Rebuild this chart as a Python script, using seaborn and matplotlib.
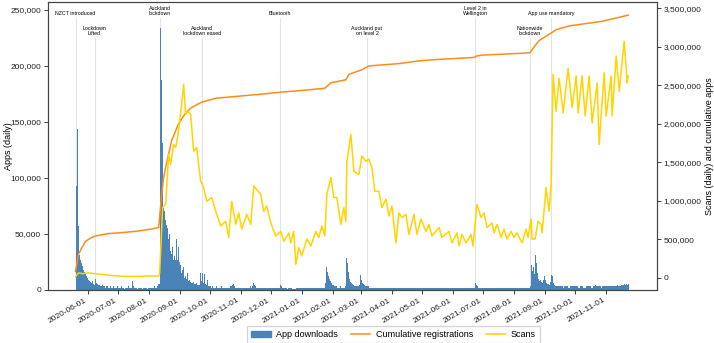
import matplotlib
matplotlib.use("Agg")
import matplotlib.pyplot as plt
import matplotlib.dates as mdates
import matplotlib.ticker as mticker
from matplotlib.patches import Patch
from matplotlib.lines import Line2D
import numpy as np
import pandas as pd
import seaborn as sns

# ---- daily app downloads (thousands), one list per month, from 2020-05-20 ----
may20 = [93, 144, 57, 31, 27, 24, 21, 18, 16, 15, 12, 11]
jun20 = [9, 8, 7, 6, 8, 5, 4, 10, 6, 5, 4, 4, 3, 3, 4, 3, 3, 2, 3, 3, 2, 2, 3, 2, 2, 3, 2, 2, 2, 3]
jul20 = [2, 2, 2, 3, 2, 2, 1, 2, 2, 2, 3, 2, 2, 2, 8, 3, 2, 2, 2, 1, 2, 2, 2, 2, 1, 2, 2, 2, 2, 1, 2]
aug20 = [2, 2, 2, 2, 2, 3, 2, 2, 3, 5, 5, 234, 187, 131, 73, 70, 62, 58, 55, 45, 50, 35, 32, 38,
         27, 30, 27, 45, 27, 38, 25]
sep20 = [22, 15, 18, 20, 11, 12, 10, 15, 8, 9, 7, 6, 6, 7, 5, 5, 6, 4, 4, 4, 15, 8, 15, 6, 14,
         5, 4, 9, 3, 3]
oct20 = [3, 2, 3, 2, 2, 2, 3, 2, 2, 2, 2, 3, 2, 2, 2, 2, 2, 2, 2, 2, 3, 3, 4, 5, 3, 2, 2, 2, 2, 2, 2]
nov20 = [2, 2, 2, 2, 2, 2, 2, 2, 2, 3, 2, 3, 6, 4, 3, 2, 2, 2, 2, 2, 2, 2, 2, 2, 2, 2, 2, 2, 2, 2]
dec20 = [2, 2, 2, 2, 2, 2, 2, 2, 2, 4, 3, 2, 2, 2, 2, 2, 1, 2, 2, 2, 2, 1, 1, 1, 1, 2, 2, 2, 2, 2, 2]
jan21 = [2, 2, 2, 2, 2, 2, 2, 2, 2, 2, 2, 2, 2, 2, 2, 2, 2, 2, 2, 2, 2, 2, 2, 6, 20, 16, 12, 10,
         8, 6, 4]
feb21 = [4, 3, 3, 3, 2, 2, 2, 3, 2, 2, 2, 2, 3, 28, 24, 16, 10, 7, 6, 5, 4, 3, 3, 3, 3, 3, 4, 13]
mar21 = [9, 6, 5, 4, 3, 3, 3, 3, 2, 2, 2, 2, 2, 2, 2, 2, 2, 2, 2, 2, 2, 2, 2, 2, 2, 2, 2, 2, 2, 2, 2]
apr21 = [2, 2, 2, 2, 1.5, 2, 2, 2, 2, 2, 2, 1.5, 2, 2, 2, 2, 2, 2, 1.5, 2, 2, 2, 2, 2, 2, 1.5, 2,
         2, 2, 2]
may21 = [2, 2, 1.5, 2, 2, 2, 2, 2, 2, 1.5, 2, 2, 2, 2, 2, 2, 1.5, 2, 2, 2, 2, 2, 2, 1.5, 2, 2, 2,
         2, 2, 2, 1.5]
jun21 = [2, 2, 2, 2, 2, 2, 1.5, 2, 2, 2, 2, 2, 2, 1.5, 2, 2, 2, 2, 2, 2, 1.5, 2, 6, 4, 3, 2, 2, 2,
         2, 2]
jul21 = [2, 2, 2, 1.5, 2, 2, 2, 2, 2, 2, 1.5, 2, 2, 2, 2, 2, 2, 1.5, 2, 2, 2, 2, 2, 2, 1.5, 2, 2,
         2, 2, 2, 2]
aug21 = [2, 2, 2, 2, 2, 2, 2, 2, 2, 2, 2, 2, 2, 2, 2, 2, 3, 22, 17, 20, 14, 31, 24, 15, 10, 8, 9,
         7, 6, 9, 12]
sep21 = [9, 6, 5, 5, 4, 7, 13, 12, 6, 4, 3, 3, 3, 3, 3, 3, 3, 3, 2, 3, 3, 3, 3, 2, 2, 3, 3, 3, 3, 3]
oct21 = [3, 3, 3, 2, 2, 3, 3, 3, 2, 2, 2, 3, 3, 3, 3, 3, 2, 2, 3, 3, 4, 3, 3, 3, 3, 3, 2, 3, 3, 3, 3]
nov21 = [3, 3, 3, 3, 3, 3, 3, 3, 3, 3, 3, 4, 3, 3, 3, 4, 4, 4, 5, 4, 5, 4, 5]

# ---- scans (millions): day offset from 2020-06-01, value ----
scan_days = [-12, -9, -5, 1, 11, 21, 36, 51, 61, 71, 72, 75, 78, 81, 83, 86, 88, 90, 92, 94, 96,
             98, 100, 103, 106, 109, 113, 116, 119, 124, 128, 133, 138, 141, 144, 148, 151, 154,
             159, 163, 166, 173, 176, 179, 183, 188, 193, 196, 201, 203, 206, 208, 211, 214, 219,
             223, 228, 231, 234, 237, 239, 243, 246, 249, 253, 256, 258, 259, 263, 266, 271, 274,
             278, 281, 284, 287, 291, 294, 298, 301, 304, 308, 311, 314, 318, 321, 326, 329, 333,
             338, 341, 344, 351, 354, 361, 364, 369, 371, 374, 378, 383, 385, 389, 393, 396, 399,
             404, 406, 409, 413, 416, 419, 423, 426, 429, 434, 438, 440, 443, 444, 447, 450, 453,
             454, 458, 461, 463, 465, 468, 471, 475, 480, 484, 488, 490, 494, 497, 501, 504, 509,
             511, 516, 518, 523, 524, 528, 531, 536, 539, 540]
scan_vals = [0.01, 0.06, 0.05, 0.06, 0.045, 0.03, 0.015, 0.015, 0.02, 0.02, 0.05, 0.91, 0.95,
             1.60, 1.47, 1.73, 1.69, 1.82, 2.03, 2.25, 2.51, 2.12, 2.16, 2.12, 1.64, 1.69, 1.25,
             1.17, 0.99, 1.04, 0.86, 0.67, 0.73, 0.52, 0.99, 0.69, 0.84, 0.63, 0.82, 0.69, 1.19,
             1.08, 0.86, 0.93, 0.71, 0.54, 0.60, 0.47, 0.58, 0.45, 0.60, 0.17, 0.39, 0.28, 0.50,
             0.41, 0.60, 0.52, 0.67, 0.54, 1.08, 1.30, 1.04, 1.04, 0.69, 0.91, 0.73, 1.51, 1.86,
             1.38, 1.34, 1.58, 1.51, 1.54, 1.43, 1.12, 1.12, 0.91, 1.02, 0.80, 0.93, 0.45, 0.84,
             0.78, 0.82, 0.56, 0.82, 0.56, 0.76, 0.60, 0.69, 0.54, 0.65, 0.52, 0.60, 0.45, 0.58,
             0.41, 0.56, 0.45, 0.56, 0.41, 0.95, 0.78, 0.84, 0.65, 0.71, 0.58, 0.69, 0.52, 0.63,
             0.50, 0.60, 0.52, 0.58, 0.45, 0.63, 0.52, 0.76, 0.50, 0.50, 0.73, 0.69, 0.58, 1.17,
             0.86, 1.21, 2.64, 2.16, 2.59, 2.14, 2.72, 2.21, 2.62, 2.14, 2.62, 2.10, 2.62, 2.01,
             2.53, 1.73, 2.66, 2.10, 2.62, 2.10, 2.88, 2.42, 3.07, 2.53, 2.62]

# ---- cumulative registrations (millions) ----
cum_days = [-12, -9, -6, -2, 4, 8, 20, 31, 48, 64, 71, 72, 74, 76, 78, 84, 91, 98, 104, 114, 128,
            154, 171, 194, 222, 237, 243, 258, 261, 274, 281, 311, 331, 344, 386, 389, 394, 442,
            445, 451, 461, 468, 481, 514, 540]
cum_vals = [0.08, 0.30, 0.38, 0.47, 0.52, 0.54, 0.57, 0.58, 0.60, 0.63, 0.65, 0.78, 1.08, 1.30,
            1.43, 1.78, 2.00, 2.14, 2.21, 2.28, 2.33, 2.36, 2.38, 2.41, 2.44, 2.46, 2.53, 2.57,
            2.64, 2.70, 2.75, 2.78, 2.815, 2.83, 2.86, 2.88, 2.89, 2.92, 2.98, 3.08, 3.16, 3.22,
            3.27, 3.33, 3.41]

# ---- events ----
event_labels = ["NZCT introduced", "Lockdown\nLifted", "Auckland\nlockdown", "Auckland\nlockdown eased",
                "Bluetooth", "Auckland put\non level 2", "Level 2 in\nWellington", "Nationwide\nlockdown",
                "App use mandatory"]
event_dates = ["2020-05-20", "2020-06-08", "2020-08-12", "2020-09-23", "2020-12-10", "2021-03-07",
               "2021-06-23", "2021-08-17", "2021-09-07"]
event_rows = [0, 1, 0, 1, 0, 1, 0, 1, 0]

bar_color = "#4a83b8"
cum_color = "#ff8c1a"
scan_color = "#ffd400"

plt.rcParams['font.family'] = ['Liberation Sans', 'DejaVu Sans']

downloads = may20 + jun20 + jul20 + aug20 + sep20 + oct20 + nov20 + dec20 + jan21 + feb21 + \
    mar21 + apr21 + may21 + jun21 + jul21 + aug21 + sep21 + oct21 + nov21
dl_dates = pd.date_range("2020-05-20", periods=len(downloads), freq="D")
df_dl = pd.DataFrame({"day": mdates.date2num(dl_dates),
                      "apps": np.array(downloads, dtype=float) * 1000})

ref = pd.Timestamp("2020-06-01")
scan_x = mdates.date2num(ref + pd.to_timedelta(scan_days, unit="D"))
cum_x = mdates.date2num(ref + pd.to_timedelta(cum_days, unit="D"))

fig, ax = plt.subplots(figsize=(7.14, 3.43), dpi=100)
fig.subplots_adjust(left=0.067, right=0.92, top=0.994, bottom=0.155)

first, last = df_dl["day"].iloc[0], df_dl["day"].iloc[-1]
sns.histplot(data=df_dl, x="day", weights="apps", binwidth=1, binrange=(first, last + 1),
             ax=ax, color=bar_color, alpha=1, linewidth=0, zorder=1)

# event lines and labels
tr = ax.get_xaxis_transform()
for lab, d, row in zip(event_labels, event_dates, event_rows):
    xd = mdates.date2num(pd.Timestamp(d))
    ytxt = 0.951 if row == 0 else 0.882
    ax.axvline(xd, ymin=0, ymax=ytxt - 0.006, color="#e3e3e3", lw=0.8, zorder=0.5)
    ax.text(xd, ytxt, lab, transform=tr, ha="center", va="bottom", fontsize=3.8, linespacing=1.0)

ax2 = ax.twinx()
sns.lineplot(x=cum_x, y=np.array(cum_vals) * 1e6, ax=ax2, color=cum_color, lw=1.1, sort=False)
sns.lineplot(x=scan_x, y=np.array(scan_vals) * 1e6, ax=ax2, color=scan_color, lw=1.1, sort=False)

ax.set_ylim(0, 257000)
ax.set_yticks(np.arange(0, 250001, 50000))
ax2.set_yticks(np.arange(0, 3500001, 500000))
comma = mticker.FuncFormatter(lambda v, p: f"{int(v):,}")
ax.yaxis.set_major_formatter(comma)
ax2.yaxis.set_major_formatter(comma)

month_ticks = mdates.date2num(pd.date_range("2020-06-01", "2021-11-01", freq="MS"))
ax.set_xticks(month_ticks)
ax.xaxis.set_major_formatter(mdates.DateFormatter("%Y-%m-%d"))
for lbl in ax.get_xticklabels():
    lbl.set_rotation(30)
    lbl.set_ha("right")

ax.set_xlabel("")
ax.set_ylabel("Apps (daily)", fontsize=6.5)
ax.yaxis.set_label_coords(-0.058, 0.5)
ax2.set_ylabel("Scans (daily) and cumulative apps", fontsize=6.5, labelpad=2)
for a in (ax, ax2):
    a.tick_params(labelsize=6.0, length=3, width=0.6, colors="#222222", pad=2)
    for s in a.spines.values():
        s.set_linewidth(0.8)
        s.set_color("#444444")

handles = [Patch(color=bar_color), Line2D([], [], color=cum_color, lw=1.1),
           Line2D([], [], color=scan_color, lw=1.1)]
labels = ["App downloads", "Cumulative registrations", "Scans"]
fig.legend(handles, labels, loc="lower center", bbox_to_anchor=(0.551, -0.012), ncol=3,
           fontsize=6.5, columnspacing=1.4, handlelength=2.2, handletextpad=0.6, borderpad=0.4,
           frameon=True, edgecolor="#cccccc", fancybox=False)

fig.savefig("out.png", dpi=100)
